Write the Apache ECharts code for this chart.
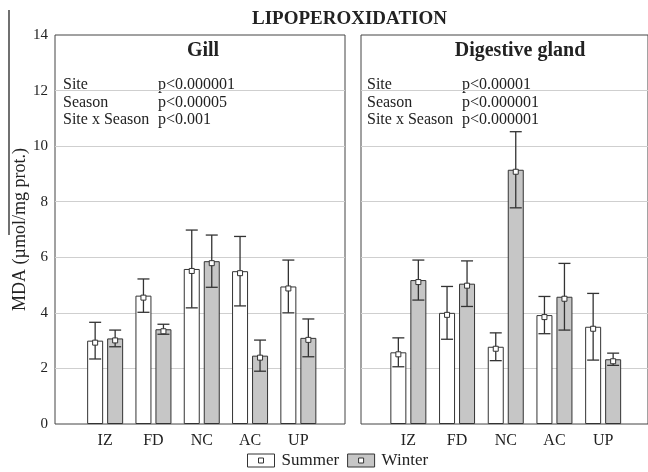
<!DOCTYPE html>
<html>
<head>
<meta charset="utf-8">
<script src="https://cdn.jsdelivr.net/npm/echarts@6/dist/echarts.min.js"></script>
<style>html,body{margin:0;padding:0;background:#fff;}#c{width:648px;height:472px;}</style>
</head>
<body>
<div id="c"></div>
<script>
// ---- data ----
const categories = ['IZ', 'FD', 'NC', 'AC', 'UP'];
const gillSummer    = [3.00, 4.62, 5.58, 5.50, 4.95];
const gillSummerErr = [0.66, 0.60, 1.40, 1.25, 0.95];
const gillWinter    = [3.08, 3.41, 5.86, 2.46, 3.10];
const gillWinterErr = [0.30, 0.18, 0.94, 0.56, 0.68];
const dgSummer      = [2.58, 4.00, 2.78, 3.92, 3.50];
const dgSummerErr   = [0.52, 0.95, 0.50, 0.67, 1.20];
const dgWinter      = [5.18, 5.05, 9.15, 4.58, 2.33];
const dgWinterErr   = [0.72, 0.82, 1.37, 1.20, 0.22];
const yMin = 0, yMax = 14, yInterval = 2;
const panelTitles = ['Gill', 'Digestive gland'];
const gillStats = [['Site', 'p<0.000001'], ['Season', 'p<0.00005'], ['Site x Season', 'p<0.001']];
const dgStats = [['Site', 'p<0.00001'], ['Season', 'p<0.000001'], ['Site x Season', 'p<0.000001']];

// ---- styling ----
const FONT = '"Liberation Serif", "Times New Roman", serif';
const INK = '#333';
const WINTER_FILL = '#c6c6c6';
const BAR_W = 16, BAR_GAP_PX = 4;
const OFFSET = (BAR_W + BAR_GAP_PX) / 2;
const CAP = 6;

const chart = echarts.init(document.getElementById('c'), null, {renderer: 'canvas'});

function errSeries(means, errs, xi, yi, dir) {
  return {
    type: 'custom', xAxisIndex: xi, yAxisIndex: yi, z: 5, silent: true,
    encode: {x: 0, y: 1},
    data: means.map((m, i) => [i, m, errs[i]]),
    renderItem: function (params, api) {
      const i = api.value(0), m = api.value(1), e = api.value(2);
      const c = api.coord([i, m]);
      const t = api.coord([i, m + e]);
      const b = api.coord([i, m - e]);
      const x = c[0] + dir * OFFSET;
      const ls = {stroke: INK, lineWidth: 1.3};
      return {
        type: 'group',
        children: [
          {type: 'line', shape: {x1: x, y1: t[1], x2: x, y2: b[1]}, style: ls},
          {type: 'line', shape: {x1: x - CAP, y1: t[1], x2: x + CAP, y2: t[1]}, style: ls},
          {type: 'line', shape: {x1: x - CAP, y1: b[1], x2: x + CAP, y2: b[1]}, style: ls},
          {type: 'rect', shape: {x: x - 2.5, y: c[1] - 0.5, width: 5, height: 5},
           style: {fill: '#fff', stroke: INK, lineWidth: 1}}
        ]
      };
    }
  };
}

function barSeries(name, data, xi, yi, fill) {
  return {
    name: name, type: 'bar', xAxisIndex: xi, yAxisIndex: yi,
    data: data, barWidth: BAR_W, barGap: (BAR_GAP_PX / BAR_W * 100) + '%',
    itemStyle: {color: fill, borderColor: INK, borderWidth: 1},
    emphasis: {disabled: true}, z: 3
  };
}

const boxGrid = (left, width) => ({left: left, top: 35, width: width, height: 389, show: true,
  borderColor: '#444', borderWidth: 1, backgroundColor: 'transparent'});
const innerGrid = (left, width) => ({left: left, top: 35, width: width, height: 389});

const valueY = (gi, showLabels, name) => ({
  type: 'value', gridIndex: gi, min: yMin, max: yMax, interval: yInterval,
  axisLine: {show: false}, axisTick: {show: false},
  axisLabel: {show: showLabels, fontSize: 15, fontFamily: FONT, color: '#222', margin: 7},
  splitLine: {show: true, showMinLine: false, showMaxLine: false, lineStyle: {color: '#cfcfcf', width: 1}},
  name: name || '', nameLocation: 'middle', nameGap: 26,
  nameTextStyle: {fontSize: 18, fontFamily: FONT, color: '#222'}
});
const hiddenY = (gi) => ({type: 'value', gridIndex: gi, min: yMin, max: yMax, interval: yInterval, show: false});
const hiddenX = (gi) => ({type: 'value', gridIndex: gi, min: 0, max: 1, show: false});
const catX = (gi) => ({
  type: 'category', gridIndex: gi, data: categories,
  axisLine: {show: false}, axisTick: {show: false}, splitLine: {show: false},
  axisLabel: {fontSize: 16, fontFamily: FONT, color: '#222', margin: 9}
});

const iconPath = 'path://M0,0L27,0L27,13L0,13ZM11,4L11,9L16,9L16,4Z';

const graphics = [
  {type: 'line', shape: {x1: 9, y1: 10, x2: 9, y2: 235}, style: {stroke: '#111', lineWidth: 1.2}},
  {type: 'text', x: 349.5, y: 19, style: {text: 'LIPOPEROXIDATION', fontSize: 19, fontWeight: 'bold',
    fontFamily: FONT, fill: '#222', align: 'center', verticalAlign: 'middle'}},
  {type: 'text', x: 203, y: 51, style: {text: panelTitles[0], fontSize: 20, fontWeight: 'bold',
    fontFamily: FONT, fill: '#222', align: 'center', verticalAlign: 'middle'}},
  {type: 'text', x: 520, y: 51, style: {text: panelTitles[1], fontSize: 20, fontWeight: 'bold',
    fontFamily: FONT, fill: '#222', align: 'center', verticalAlign: 'middle'}}
];
const statYs = [85, 102.5, 120];
function addStats(stats, x1, x2) {
  stats.forEach((s, k) => {
    graphics.push({type: 'text', x: x1, y: statYs[k], style: {text: s[0], fontSize: 16, fontFamily: FONT,
      fill: '#222', align: 'left', verticalAlign: 'middle'}});
    graphics.push({type: 'text', x: x2, y: statYs[k], style: {text: s[1], fontSize: 16, fontFamily: FONT,
      fill: '#222', align: 'left', verticalAlign: 'middle'}});
  });
}
addStats(gillStats, 63, 158);
addStats(dgStats, 367, 462);

chart.setOption({
  animation: false,
  backgroundColor: '#fff',
  grid: [boxGrid(55, 290), innerGrid(81, 241.5), boxGrid(361, 292), innerGrid(384, 243.5)],
  xAxis: [hiddenX(0), catX(1), hiddenX(2), catX(3)],
  yAxis: [valueY(0, true, 'MDA (µmol/mg prot.)'), hiddenY(1), valueY(2, false), hiddenY(3)],
  legend: {
    left: 247, top: 452, padding: 0, itemWidth: 27, itemHeight: 13, itemGap: 8,
    selectedMode: false,
    textStyle: {fontSize: 17, fontFamily: FONT, color: '#222', padding: [0, 0, 0, 2]},
    data: [
      {name: 'Summer', icon: iconPath, itemStyle: {color: '#fff', borderColor: INK, borderWidth: 1}},
      {name: 'Winter', icon: iconPath, itemStyle: {color: WINTER_FILL, borderColor: INK, borderWidth: 1}}
    ]
  },
  series: [
    barSeries('Summer', gillSummer, 1, 1, '#fff'),
    barSeries('Winter', gillWinter, 1, 1, WINTER_FILL),
    errSeries(gillSummer, gillSummerErr, 1, 1, -1),
    errSeries(gillWinter, gillWinterErr, 1, 1, 1),
    barSeries('Summer', dgSummer, 3, 3, '#fff'),
    barSeries('Winter', dgWinter, 3, 3, WINTER_FILL),
    errSeries(dgSummer, dgSummerErr, 3, 3, -1),
    errSeries(dgWinter, dgWinterErr, 3, 3, 1)
  ],
  graphic: graphics
});
</script>
</body>
</html>
